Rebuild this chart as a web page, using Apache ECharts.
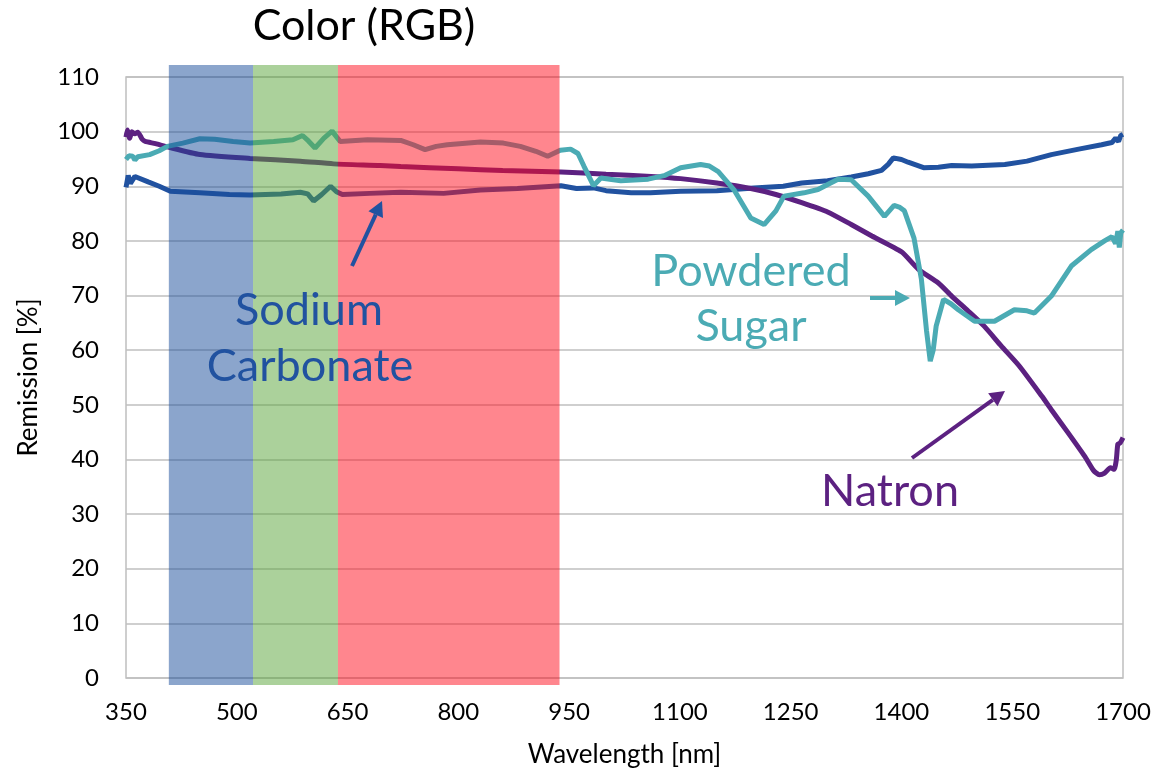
<!DOCTYPE html>
<html>
<head>
<meta charset="utf-8">
<script src="https://cdn.jsdelivr.net/npm/echarts@6/dist/echarts.min.js"></script>
<style>
  html, body { margin: 0; padding: 0; background: #fff; }
  #chart { width: 1158px; height: 773px; }
</style>
</head>
<body>
<div id="chart"></div>
<script>
// remission spectra, [wavelength nm, remission %]
var sodiumCarbonate = [
  [350, 89.8], [353, 92], [356, 90.5], [362, 91.8], [380, 90.8], [395, 90], [410, 89.1],
  [450, 88.8], [490, 88.5], [518, 88.4], [560, 88.6], [586, 88.9], [596, 88.6], [604, 87.3],
  [615, 88.5], [627, 90.0], [635, 89], [643, 88.5], [680, 88.7], [722, 88.9], [780, 88.7],
  [830, 89.3], [880, 89.6], [939, 90.1], [960, 89.6], [983, 89.7], [1000, 89.2], [1034, 88.8],
  [1060, 88.8], [1101, 89.1], [1150, 89.2], [1200, 89.7], [1240, 90], [1265, 90.6], [1300, 91.0],
  [1332, 91.7], [1355, 92.3], [1373, 92.9], [1382, 94], [1389, 95.2], [1400, 94.9], [1409, 94.4],
  [1430, 93.4], [1450, 93.5], [1468, 93.8], [1495, 93.7], [1540, 94.0], [1570, 94.6], [1603, 95.8],
  [1640, 96.8], [1671, 97.6], [1685, 98], [1690, 98.8], [1694, 98.2], [1697, 99.3], [1700, 99.5]
];
var natron = [
  [350, 99], [352, 100.3], [355, 98.8], [358, 100], [362, 99.6], [366, 99.9], [372, 98.6],
  [376, 98.2], [390, 97.8], [406, 97.2], [450, 95.8], [518, 95.1], [586, 94.6], [631, 94.1],
  [694, 93.8], [722, 93.6], [800, 93.2], [860, 92.9], [939, 92.6], [1000, 92.2], [1061, 91.8],
  [1101, 91.4], [1150, 90.6], [1196, 89.6], [1230, 88.5], [1265, 87.0], [1300, 85.3], [1332, 83.0],
  [1360, 80.9], [1400, 78.0], [1423, 74.8], [1450, 72.3], [1468, 69.9], [1490, 67.2], [1512, 64.4],
  [1535, 60.8], [1559, 57.2], [1590, 51.6], [1603, 49.1], [1625, 45], [1648, 40.6], [1660, 38],
  [1668, 37.2], [1675, 37.5], [1683, 38.5], [1688, 38.2], [1691, 40], [1693, 42.8], [1696, 43],
  [1700, 44]
];
var powderedSugar = [
  [350, 94.9], [354, 95.6], [359, 95.5], [362, 94.8], [366, 95.4], [382, 95.8], [395, 96.5],
  [406, 97.3], [427, 97.9], [450, 98.7], [470, 98.6], [495, 98.2], [518, 97.9], [550, 98.2],
  [576, 98.5], [589, 99.3], [597, 98.3], [606, 97.0], [618, 98.8], [629, 100.1], [640, 98.2],
  [677, 98.5], [722, 98.4], [739, 97.6], [755, 96.7], [770, 97.3], [785, 97.6], [830, 98.1],
  [861, 97.9], [884, 97.3], [905, 96.4], [921, 95.5], [938, 96.6], [952, 96.8], [962, 96],
  [970, 93.7], [978, 91.5], [983, 90.1], [993, 91.5], [1005, 91.3], [1020, 91.0], [1057, 91.3],
  [1080, 92], [1101, 93.4], [1128, 94.0], [1140, 93.7], [1152, 92.7], [1173, 89.4], [1196, 84.2],
  [1214, 83.0], [1230, 85.5], [1241, 88.2], [1268, 88.8], [1287, 89.4], [1314, 91.3], [1332, 91.2],
  [1355, 88.2], [1377, 84.5], [1390, 86.5], [1397, 86.2], [1404, 85.5], [1417, 80.5], [1427, 73],
  [1434, 63.5], [1439, 58.0], [1443, 60], [1447, 64.4], [1457, 69.3], [1467, 68.5], [1477, 67.4],
  [1499, 65.3], [1526, 65.3], [1553, 67.4], [1570, 67.2], [1580, 66.8], [1603, 69.9], [1630, 75.4],
  [1657, 78.4], [1675, 80], [1685, 80.8], [1690, 79.5], [1693, 81.8], [1695, 78.8], [1697, 81.5],
  [1700, 82]
];
// R, G, B wavelength bands [from, to]
var colorBands = [[408, 522], [522, 637], [637, 937]];
var bandColors = ['rgba(23,75,153,0.5)', 'rgba(87,163,55,0.5)', 'rgba(255,13,29,0.5)'];

var xMin = 350, xMax = 1700, xStep = 150;
var yMin = 0, yMax = 110, yStep = 10;

var font = 'Lato';
var cBlue = '#2152A0', cPurple = '#5C2181', cTeal = '#4BABB4';

function arrow(x1, y1, x2, y2, color) {
  var dx = x2 - x1, dy = y2 - y1, len = Math.sqrt(dx * dx + dy * dy);
  var ux = dx / len, uy = dy / len, hl = 15, hw = 8;
  var bx = x2 - ux * hl, by = y2 - uy * hl;
  return [
    { type: 'line', z: 100, shape: { x1: x1, y1: y1, x2: bx, y2: by }, style: { stroke: color, lineWidth: 4 } },
    { type: 'polygon', z: 100, shape: { points: [[x2, y2], [bx - uy * hw, by + ux * hw], [bx + uy * hw, by - ux * hw]] }, style: { fill: color } }
  ];
}

function label(text, x, y, size, color) {
  return { type: 'text', z: 100, x: x, y: y,
    style: { text: text, fill: color, font: size + 'px ' + font, textAlign: 'center', textVerticalAlign: 'middle' } };
}

var chart = echarts.init(document.getElementById('chart'));
chart.setOption({
  animation: false,
  grid: { left: 126, right: 35, top: 77, bottom: 94, show: true, borderColor: '#BFBFBF', borderWidth: 1.5 },
  xAxis: {
    type: 'value', min: xMin, max: xMax, interval: xStep,
    name: 'Wavelength [nm]', nameLocation: 'middle', nameGap: 64,
    nameTextStyle: { fontFamily: font, fontSize: 26, color: '#000' },
    axisLine: { show: false }, axisTick: { show: false }, splitLine: { show: false },
    axisLabel: { fontFamily: font, fontSize: 24, color: '#000', margin: 22,
      formatter: function (v) { return String(v); } }
  },
  yAxis: {
    type: 'value', min: yMin, max: yMax, interval: yStep,
    name: 'Remission [%]', nameLocation: 'middle', nameGap: 84,
    nameTextStyle: { fontFamily: font, fontSize: 26, color: '#000' },
    axisLine: { show: false }, axisTick: { show: false },
    splitLine: { lineStyle: { color: '#BFBFBF', width: 1.5 } },
    axisLabel: { fontFamily: font, fontSize: 24, color: '#000', margin: 27 }
  },
  series: [
    { name: 'Sodium Carbonate', type: 'line', data: sodiumCarbonate, showSymbol: false, z: 2,
      lineStyle: { color: cBlue, width: 5 } },
    { name: 'Natron', type: 'line', data: natron, showSymbol: false, z: 2, smooth: 0.2,
      lineStyle: { color: cPurple, width: 5 } },
    { name: 'Powdered Sugar', type: 'line', data: powderedSugar, showSymbol: false, z: 2,
      lineStyle: { color: cTeal, width: 5 } },
    { name: 'bands', type: 'custom', data: colorBands, z: 5, clip: false,
      encode: { x: [0, 1] },
      renderItem: function (params, api) {
        var p0 = api.coord([api.value(0), yMax]);
        var p1 = api.coord([api.value(1), yMin]);
        return { type: 'rect',
          shape: { x: p0[0], y: p0[1] - 12, width: p1[0] - p0[0], height: p1[1] - p0[1] + 19 },
          style: { fill: bandColors[params.dataIndex] } };
      }
    }
  ],
  graphic: [
    label('Color (RGB)', 364, 26, 43, '#000'),
    label('Sodium', 309, 310, 45, cBlue),
    label('Carbonate', 310, 366, 45, cBlue),
    label('Powdered', 751, 271, 45, cTeal),
    label('Sugar', 751, 326, 45, cTeal),
    label('Natron', 890, 491, 45, cPurple)
  ].concat(arrow(352, 266, 382, 201, cBlue))
   .concat(arrow(870, 298, 910, 298, cTeal))
   .concat(arrow(912, 458, 1005, 391, cPurple))
});
</script>
</body>
</html>
